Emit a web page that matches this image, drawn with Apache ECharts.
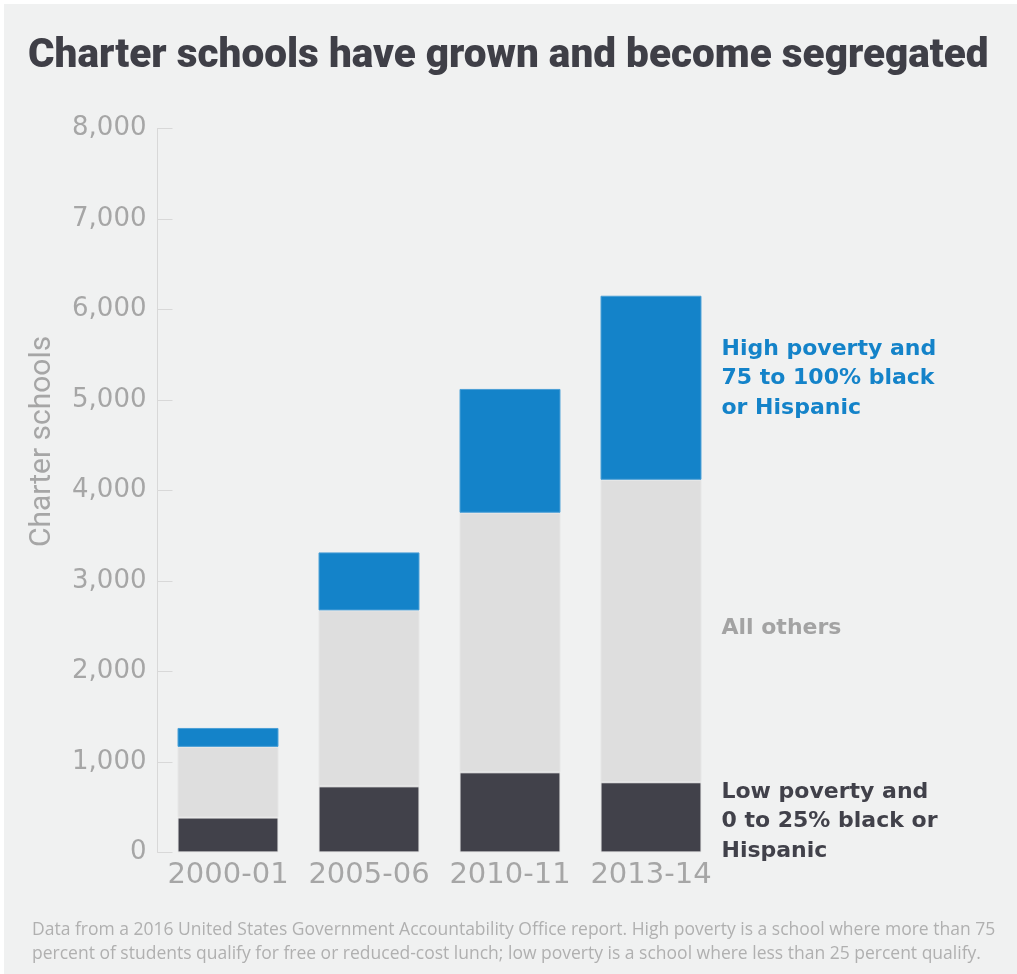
<!DOCTYPE html>
<html>
<head>
<meta charset="utf-8">
<script src="https://cdn.jsdelivr.net/npm/echarts@6/dist/echarts.min.js"></script>
<style>
html,body{margin:0;padding:0;background:#ffffff;}
#chart{position:absolute;left:4px;top:4px;width:1013px;height:970px;}
</style>
</head>
<body>
<div id="chart"></div>
<script>
const categories = ['2000-01', '2005-06', '2010-11', '2013-14'];
const lowPoverty = [385, 730, 885, 775];
const allOthers = [781, 1944, 2868, 3342];
const highPoverty = [209, 641, 1368, 2034];
const seriesNames = ['Low poverty and\n0 to 25% black or\nHispanic', 'All others', 'High poverty and\n75 to 100% black\nor Hispanic'];
const yTicks = [0, 1000, 2000, 3000, 4000, 5000, 6000, 7000, 8000];

const chart = echarts.init(document.getElementById('chart'));

function endLabel(name, color, dy) {
  return {
    show: true,
    position: 'right',
    distance: 20,
    offset: [0, dy],
    formatter: function (p) { return p.dataIndex === categories.length - 1 ? name : ''; },
    color: color,
    fontFamily: 'DejaVu Sans',
    fontWeight: 'bold',
    fontSize: 22,
    lineHeight: 29.5,
    align: 'left'
  };
}

const option = {
  backgroundColor: '#f0f1f1',
  animation: false,
  title: {
    text: 'Charter schools have grown and become segregated',
    left: 19,
    top: 27,
    textStyle: {
      fontFamily: 'Roboto',
      fontWeight: 900,
      fontSize: 40.5,
      color: '#3f3f47'
    }
  },
  grid: {
    left: 153.5,
    top: 124.4,
    width: 564,
    height: 724
  },
  xAxis: {
    type: 'category',
    data: categories,
    axisLine: { show: false },
    axisTick: { show: false },
    axisLabel: {
      interval: 0,
      color: '#a6a6a6',
      fontFamily: 'DejaVu Sans',
      fontSize: 29,
      margin: 9
    }
  },
  yAxis: {
    type: 'value',
    min: yTicks[0],
    max: yTicks[yTicks.length - 1],
    interval: 1000,
    name: 'Charter schools',
    nameLocation: 'middle',
    nameGap: 100,
    nameRotate: 90,
    nameTextStyle: {
      color: '#a6a6a6',
      fontFamily: 'Roboto',
      fontSize: 30,
      padding: [0, 0, 0, 98]
    },
    axisLine: { show: true, lineStyle: { color: '#d8d8d8', width: 1 } },
    axisTick: { show: true, inside: true, length: 15, lineStyle: { color: '#d8d8d8' } },
    splitLine: { show: false },
    axisLabel: {
      color: '#a6a6a6',
      fontFamily: 'DejaVu Sans',
      fontSize: 26,
      margin: 11,
      formatter: function (v) { return v.toLocaleString('en-US'); }
    }
  },
  series: [
    {
      name: seriesNames[0],
      type: 'bar',
      stack: 'total',
      barCategoryGap: '28.4%',
      data: lowPoverty,
      itemStyle: { color: '#41414a', borderColor: '#e6e6e6', borderWidth: 1 },
      label: endLabel(seriesNames[0], '#41414a', 4)
    },
    {
      name: seriesNames[1],
      type: 'bar',
      stack: 'total',
      data: allOthers,
      itemStyle: { color: '#dedede', borderColor: '#e6e6e6', borderWidth: 1 },
      label: endLabel(seriesNames[1], '#a3a3a3', -3)
    },
    {
      name: seriesNames[2],
      type: 'bar',
      stack: 'total',
      data: highPoverty,
      itemStyle: { color: '#1483c9', borderColor: '#4a9fd6', borderWidth: 1 },
      label: endLabel(seriesNames[2], '#1483c9', -9)
    }
  ],
  graphic: [
    {
      type: 'text',
      left: 28,
      top: 914,
      style: {
        text: 'Data from a 2016 United States Government Accountability Office report. High poverty is a school where more than 75\npercent of students qualify for free or reduced-cost lunch; low poverty is a school where less than 25 percent qualify.',
        fill: '#b0b0b0',
        fontFamily: 'Open Sans',
        fontSize: 17.5,
        lineHeight: 24
      }
    }
  ]
};
chart.setOption(option);
</script>
</body>
</html>
